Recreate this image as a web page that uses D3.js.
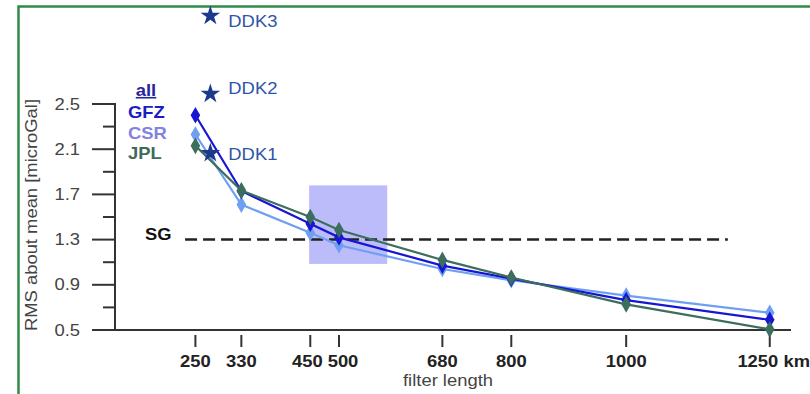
<!DOCTYPE html>
<html>
<head>
<meta charset="utf-8">
<script src="https://cdn.jsdelivr.net/npm/d3@7"></script>
<style>
  body { margin: 0; background: #fff; }
  svg { display: block; font-family: Arial, "Liberation Sans", sans-serif; }
</style>
</head>
<body>
<svg id="chart" width="810" height="394"></svg>
<script>
// filter lengths (km) and RMS about mean (microGal) per centre
var filterLengths = [250, 330, 450, 500, 680, 800, 1000, 1250];
var gfzValues = [2.40, 1.73, 1.44, 1.32, 1.07, 0.955, 0.765, 0.59];
var csrValues = [2.23, 1.61, 1.36, 1.25, 1.04, 0.94, 0.805, 0.653];
var jplValues = [2.13, 1.735, 1.50, 1.385, 1.12, 0.965, 0.727, 0.506];

var yTicks = [0.5, 0.9, 1.3, 1.7, 2.1, 2.5];
var yMinorTicks = [0.7, 1.1, 1.5, 1.9, 2.3];

// DDK filters, drawn as stars beside the curves
var ddkNames = ["DDK1", "DDK2", "DDK3"];
var ddkValues = [2.065, 2.59, 3.28];
var ddkLength = 276;

// superconducting gravimeter level and the highlighted window
var sgLevel = 1.3;
var sgRange = [232, 1177];
var boxLengths = [448, 584];
var boxValues = [1.085, 1.78];

var svg = d3.select("#chart");
var STRETCH = 1.15;

var x = d3.scaleLinear().domain([110, 1287]).range([115, 791]);
var y = d3.scaleLinear().domain([0.5, 2.5]).range([330, 104]);

/**
 * Text helper: the original lettering is a bit wider than Arial, so stretch it.
 */
function label(g, tx, ty, str, args) {
    var t = g.append("text")
	.attr("transform", "translate(" + tx + "," + ty + ")" +
	      (args.rotate ? " rotate(" + args.rotate + ")" : "") +
	      " scale(" + STRETCH + ",1)")
	.attr("text-anchor", args.anchor || "start")
	.style("font-size", (args.size || 16) + "px")
	.style("font-weight", args.bold ? "bold" : "normal")
	.style("fill", args.fill || "#333")
	.text(str);
    if (args.underline) t.style("text-decoration", "underline");
    return t;
}

/**
 * Green frame along the top and the left.
 */
svg.append("path")
    .attr("d", "M18.5,394 V6.5 H810")
    .attr("fill", "none").attr("stroke", "#2f8a4a").attr("stroke-width", 2.5);

/**
 * Shaded window, under everything else.
 */
svg.append("rect")
    .attr("x", x(boxLengths[0])).attr("y", y(boxValues[1]))
    .attr("width", x(boxLengths[1]) - x(boxLengths[0]))
    .attr("height", y(boxValues[0]) - y(boxValues[1]))
    .attr("fill", "#bcbcfa");

/**
 * Axes.
 */
var axisColor = "#333";
var yAxis = svg.append("g");
yAxis.append("line")
    .attr("x1", 115).attr("x2", 115).attr("y1", y(2.5) - 1).attr("y2", y(0.5))
    .attr("stroke", axisColor).attr("stroke-width", 2);
yAxis.selectAll(".major").data(yTicks).enter().append("line")
    .attr("x1", 92).attr("x2", 115).attr("y1", y).attr("y2", y)
    .attr("stroke", axisColor).attr("stroke-width", 2);
yAxis.selectAll(".minor").data(yMinorTicks).enter().append("line")
    .attr("x1", 103).attr("x2", 115).attr("y1", y).attr("y2", y)
    .attr("stroke", axisColor).attr("stroke-width", 2);
yTicks.forEach(function (v) {
    label(yAxis, 80, y(v) + 5.5, d3.format(".1f")(v), {anchor: "end", fill: "#444"});
});
label(yAxis, 37, 215, "RMS about mean [microGal]", {anchor: "middle", rotate: -90, fill: "#444"});

var xAxis = svg.append("g");
xAxis.append("line")
    .attr("x1", 114).attr("x2", 791).attr("y1", 330).attr("y2", 330)
    .attr("stroke", axisColor).attr("stroke-width", 2);
xAxis.selectAll(".tick").data(filterLengths).enter().append("line")
    .attr("x1", x).attr("x2", x).attr("y1", 335).attr("y2", 347)
    .attr("stroke", axisColor).attr("stroke-width", 2);
// 450 and 500 sit close together, push their labels apart a little
var tickNudge = {450: -3, 500: 4};
filterLengths.forEach(function (v, k) {
    var last = k == filterLengths.length - 1;
    if (last)   // last label carries the unit and runs to the page edge
	label(xAxis, 810, 367, v + " km", {anchor: "end", bold: true, fill: "#222"});
    else
	label(xAxis, x(v) + (tickNudge[v] || 0), 367, String(v), {anchor: "middle", bold: true, fill: "#222"});
});
label(xAxis, 448, 386, "filter length", {anchor: "middle", fill: "#444"});

/**
 * SG reference level.
 */
svg.append("line")
    .attr("x1", x(sgRange[0])).attr("x2", x(sgRange[1]))
    .attr("y1", y(sgLevel)).attr("y2", y(sgLevel))
    .attr("stroke", "#222").attr("stroke-width", 2.5)
    .attr("stroke-dasharray", "12,6");
label(svg, 145, 240, "SG", {bold: true, fill: "#111"});

/**
 * The three series.
 */
var series = [
    ["CSR", csrValues, "#6f9ff0", "#8282e2"],
    ["GFZ", gfzValues, "#1616d4", "#1c1cc4"],
    ["JPL", jplValues, "#3d6d5d", "#3f6a5a"]
];
var line = d3.line()
    .x(function (d) { return x(d[0]); })
    .y(function (d) { return y(d[1]); });
var diamond = d3.symbol().type(d3.symbolDiamond).size(80);

for (var i in series) {
    var s = series[i];
    var pts = d3.zip(filterLengths, s[1]);
    var g = svg.append("g");
    g.append("path").datum(pts)
	.attr("d", line)
	.attr("fill", "none").attr("stroke", s[2]).attr("stroke-width", 2.2);
    g.selectAll("path.m").data(pts).enter().append("path")
	.attr("class", "m")
	.attr("d", diamond)
	.attr("transform", function (d) { return "translate(" + x(d[0]) + "," + y(d[1]) + ")"; })
	.attr("fill", s[2]);
}

/**
 * Legend.
 */
var legend = svg.append("g");
label(legend, 146, 96, "all", {anchor: "middle", bold: true, fill: "#2525a0", underline: true});
var legendY = {GFZ: 118, CSR: 139, JPL: 159};
for (var i in series)
    label(legend, 128, legendY[series[i][0]], series[i][0], {bold: true, fill: series[i][3]});

/**
 * DDK stars.
 */
var star = d3.symbol().type(d3.symbolStar).size(120);
var ddkDy = [7, 0, 11];
ddkValues.forEach(function (v, k) {
    svg.append("path")
	.attr("d", star)
	.attr("transform", "translate(" + x(ddkLength) + "," + y(v) + ")")
	.attr("fill", "#1c3a8c");
    label(svg, x(ddkLength) + 18, y(v) + ddkDy[k], ddkNames[k], {fill: "#2f55a5"});
});
</script>
</body>
</html>
